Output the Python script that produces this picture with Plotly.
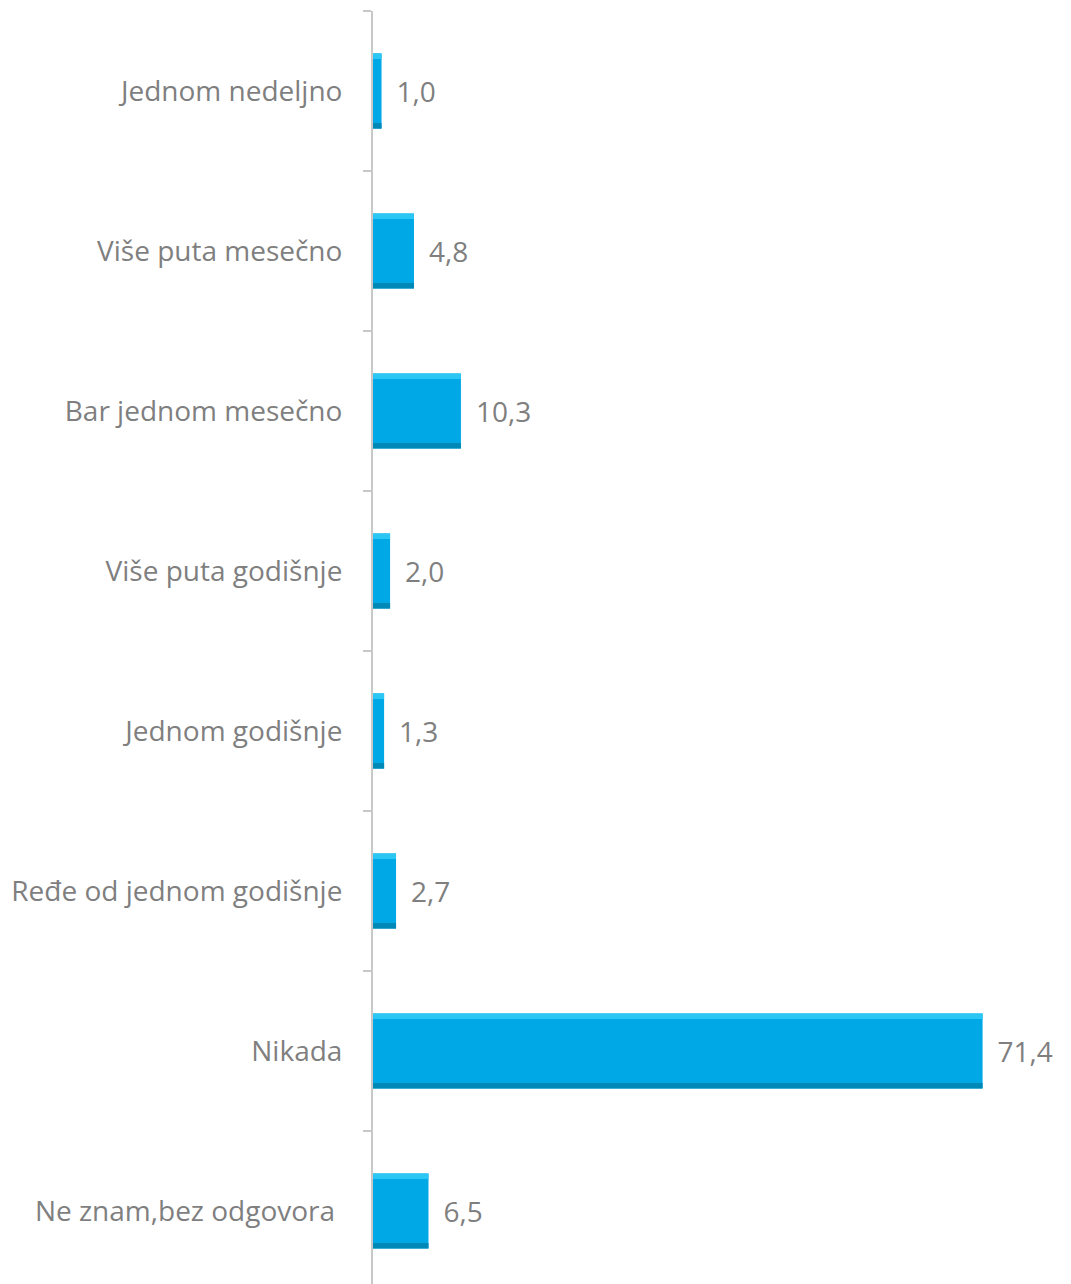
import plotly.graph_objects as go

categories = [
    "Jednom nedeljno",
    "Više puta mesečno",
    "Bar jednom mesečno",
    "Više puta godišnje",
    "Jednom godišnje",
    "Ređe od jednom godišnje",
    "Nikada",
    "Ne znam,bez odgovora\u00a0",
]
values = [1.0, 4.8, 10.3, 2.0, 1.3, 2.7, 71.4, 6.5]
labels = ["\u00a0\u2006" + f"{v:.1f}".replace(".", ",") for v in values]

BAR_W = 0.47
STRIP = 0.035
font = "'Open Sans', sans-serif"
gray = "#7F7F7F"

fig = go.Figure()
fig.add_trace(go.Bar(
    y=categories, x=values, orientation="h",
    width=BAR_W, offset=-BAR_W / 2,
    marker=dict(color="#00A8E6", line=dict(width=0)),
    text=labels, textposition="outside", cliponaxis=False,
    textfont=dict(size=28, color=gray, family=font),
    hoverinfo="skip",
))
# bevel highlights
fig.add_trace(go.Bar(
    y=categories, x=values, orientation="h",
    width=STRIP, offset=-BAR_W / 2,
    marker=dict(color="#2CC6F4", line=dict(width=0)), hoverinfo="skip",
))
fig.add_trace(go.Bar(
    y=categories, x=values, orientation="h",
    width=STRIP, offset=BAR_W / 2 - STRIP,
    marker=dict(color="#0089B6", line=dict(width=0)), hoverinfo="skip",
))

fig.update_layout(
    width=1071, height=1284,
    margin=dict(l=365, r=23, t=3, b=0),
    paper_bgcolor="white", plot_bgcolor="white",
    barmode="overlay", showlegend=False,
    xaxis=dict(range=[0, 80], visible=False),
    yaxis=dict(
        type="category",
        range=[-0.5 + 1281 / 160, -0.5],
        showline=True, linecolor="#C8C8C8", linewidth=2,
        ticks="outside", ticklen=8, tickcolor="#C8C8C8", tickwidth=2,
        tickson="boundaries", showgrid=False,
        ticklabelstandoff=23,
        tickfont=dict(size=28, color=gray, family=font),
    ),
)

fig.write_html("out.html")
